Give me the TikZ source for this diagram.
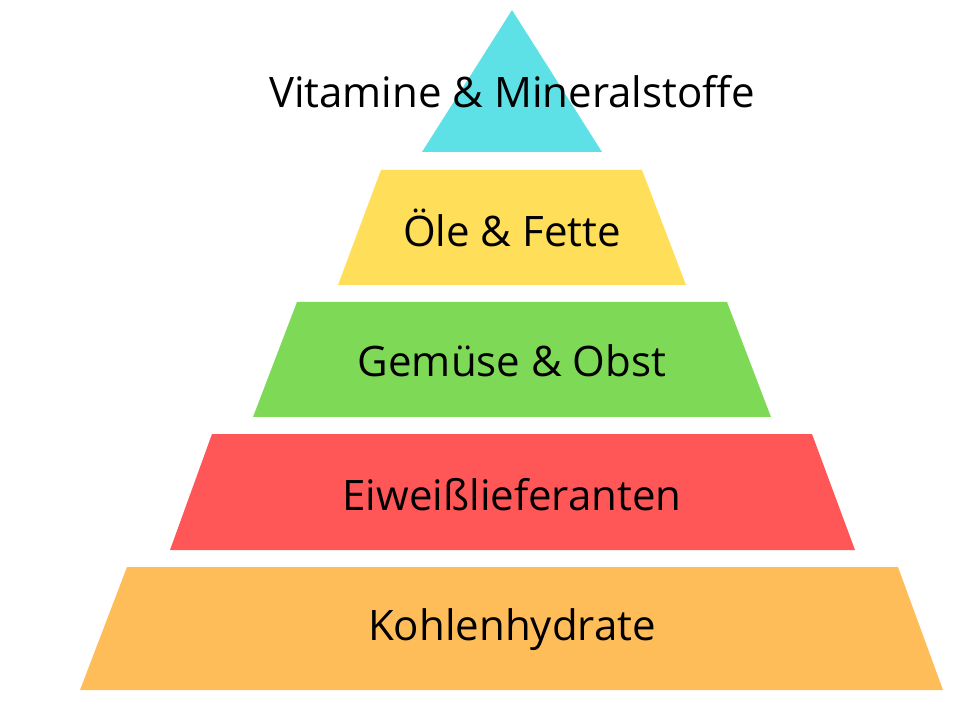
\documentclass[tikz,border=0pt]{standalone}
\usepackage{fontspec}
\setmainfont{Open Sans}
\definecolor{cA}{HTML}{5EE1E6}
\definecolor{cB}{HTML}{FFDE59}
\definecolor{cC}{HTML}{7ED957}
\definecolor{cD}{HTML}{FF5757}
\definecolor{cE}{HTML}{FFBD59}
\begin{document}
\begin{tikzpicture}[x=1pt,y=-1pt,lbl/.style={font=\fontsize{42}{50}\selectfont,text=black,inner sep=0pt}]
\useasboundingbox (0,0) rectangle (980,708);
\fill[cA] (512,10) -- (602,152) -- (422,152) -- cycle;
\fill[cB] (381,170) -- (642,170) -- (686,285) -- (338,285) -- cycle;
\fill[cC] (297,302) -- (727,302) -- (771,417) -- (253,417) -- cycle;
\fill[cD] (212,434) -- (812,434) -- (855,550) -- (170,550) -- cycle;
\fill[cE] (127,567) -- (898,567) -- (943,690) -- (80,690) -- cycle;
\node[lbl] (t1) at (512,92) {Vitamine \& Mineralstoffe};
\node[lbl] (t2) at (512,228) {Öle \& Fette};
\node[lbl] (t3) at (512,361) {Gemüse \& Obst};
\node[lbl] (t4) at (512,495) {Eiweißlieferanten};
\node[lbl] (t5) at (512,630) {Kohlenhydrate};
\end{tikzpicture}
\end{document}
